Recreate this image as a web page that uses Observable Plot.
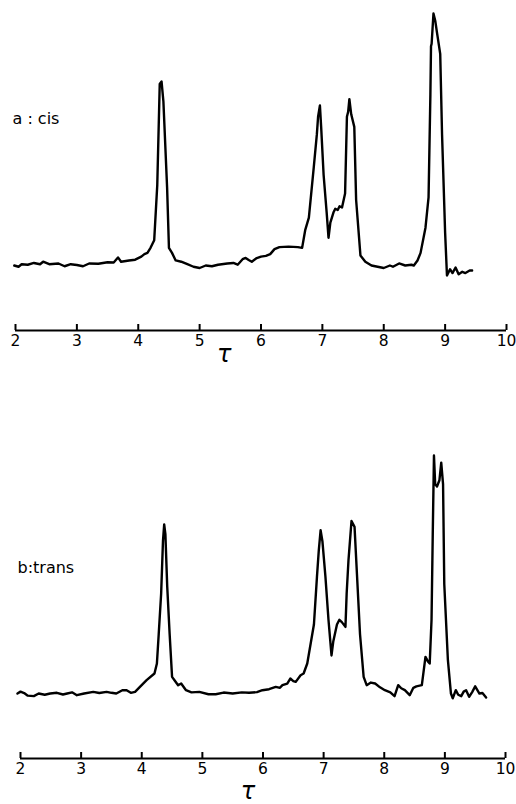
<!DOCTYPE html>
<html>
<head>
<meta charset="utf-8">
<script src="https://cdn.jsdelivr.net/npm/d3@7"></script>
<script src="https://cdn.jsdelivr.net/npm/@observablehq/plot@0.6"></script>
<style>
  html, body { margin: 0; padding: 0; background: white; }
  #chart svg { display: block; }
</style>
</head>
<body>
<div id="chart"></div>
<script>
// ---- data ----
const tickValues = [2, 3, 4, 5, 6, 7, 8, 9, 10];
const axisTitle = "τ";

const cisLabel = "a : cis";
const cisTau = [1.98,2.05,2.1,2.2,2.3,2.4,2.45,2.55,2.7,2.8,2.9,3.0,3.1,3.2,3.35,3.5,3.6,3.67,3.72,3.85,3.95,4.05,4.1,4.15,4.2,4.26,4.31,4.35,4.38,4.41,4.47,4.5,4.55,4.61,4.7,4.8,4.9,5.0,5.1,5.2,5.3,5.45,5.55,5.62,5.7,5.75,5.8,5.85,5.92,6.0,6.08,6.15,6.22,6.3,6.45,6.6,6.67,6.72,6.78,6.86,6.91,6.93,6.96,6.98,7.02,7.07,7.1,7.13,7.18,7.21,7.25,7.28,7.32,7.37,7.4,7.42,7.44,7.47,7.52,7.55,7.62,7.7,7.8,7.9,8.0,8.1,8.15,8.25,8.35,8.45,8.49,8.55,8.6,8.68,8.73,8.76,8.77,8.78,8.81,8.84,8.87,8.92,8.95,9.0,9.03,9.06,9.08,9.12,9.17,9.22,9.28,9.33,9.4,9.44];
const cisIntensity = [0,-0.5,0.5,0.3,1,0.5,1.5,0.5,0.8,-0.3,0.5,0.2,-0.3,0.8,0.7,1.3,1.2,3.2,1.5,2,2.3,3.5,4.5,5,7,10,32,72,73,65,31,7,5,2,1.5,0.5,-0.5,-1,0,-0.3,0.3,0.8,1,0.3,2.5,3,2.2,1.5,2.8,3.5,3.8,4.5,6.5,7.3,7.5,7.3,7,14,19,39,52,59,63.5,55,36,21,11,17,21,22.5,22,23.5,23,28.6,59,61,66,60,55,26,4,1.5,0,-0.5,-1,0,-0.5,0.8,0,0.3,0,2,5,15,27,68,87,88,100,97,92,84,52,13,-4,-2.5,-1.5,-3,-0.8,-3.5,-2.5,-3,-2,-2];

const transLabel = "b:trans";
const transTau = [1.95,2.0,2.06,2.12,2.22,2.3,2.4,2.49,2.6,2.7,2.77,2.85,2.93,3.05,3.2,3.3,3.42,3.5,3.58,3.68,3.75,3.82,3.89,3.97,4.08,4.21,4.25,4.28,4.32,4.35,4.37,4.39,4.42,4.46,4.5,4.54,4.6,4.65,4.73,4.82,4.95,5.1,5.22,5.35,5.5,5.65,5.77,5.9,5.99,6.1,6.21,6.28,6.32,6.4,6.45,6.5,6.54,6.62,6.67,6.73,6.84,6.89,6.92,6.95,6.98,7.03,7.08,7.13,7.16,7.22,7.26,7.3,7.36,7.38,7.41,7.46,7.51,7.55,7.6,7.66,7.71,7.78,7.85,7.93,8.01,8.1,8.17,8.23,8.28,8.34,8.42,8.48,8.53,8.62,8.68,8.72,8.75,8.78,8.8,8.82,8.84,8.87,8.91,8.94,8.97,8.99,9.05,9.1,9.13,9.18,9.22,9.27,9.31,9.35,9.4,9.45,9.5,9.57,9.62,9.68];
const transIntensity = [0,0.8,0.2,-0.9,-1.1,0,-0.5,0,0.3,-0.4,0,0.5,-0.7,0,0.7,0.2,0.7,0.3,0,1.4,1.4,0.3,0.7,2.8,5.6,8.4,12.6,25,42,64,71,67,45,25,7,5.6,3.5,4.2,1.4,0.5,0.7,-0.3,-0.3,0.4,0,0.5,0.3,0.6,1.4,1.8,2.8,2.4,3.5,4.2,6.3,5.2,4.9,7.7,8.4,12.6,29,49,60,68.6,64,49,31,16,22,29,31,30,28,42,56,72.5,70,50,25,7,3.5,4.6,4.2,2.6,1.4,0.5,-1.1,3.5,2.2,1.4,-0.7,2.4,3,3.5,15.4,13.5,12.6,31,67,100,88,87,89.6,97,88,46,14,0,-2,1.4,-0.5,-1.1,0.8,1.4,-1.4,0.6,3,0,0.2,-1.7];

// ---- drawing ----
const font = "DejaVu Sans";

function panel({tau, intensity, label, height, marginTop, marginBottom, marginLeft, marginRight, yMin, labelDy, titleX, titleDy}) {
  const rows = tau.map((t, i) => ({tau: t, intensity: intensity[i]}));
  return Plot.plot({
    width: 516,
    height,
    marginTop, marginBottom, marginLeft, marginRight,
    style: {background: "white", color: "black", fontFamily: font, fontSize: "16px"},
    x: {domain: [2, 10], axis: null},
    y: {domain: [yMin, 100], axis: null},
    marks: [
      Plot.ruleY([yMin], {stroke: "black", strokeWidth: 2}),
      Plot.axisX({ticks: tickValues, tickSize: -6, tickPadding: 10, strokeWidth: 2, fontSize: 15.5, label: null, tickFormat: d => String(d)}),
      Plot.line(rows, {x: "tau", y: "intensity", stroke: "black", strokeWidth: 2.4, strokeLinejoin: "round", curve: "linear"}),
      Plot.text([label], {frameAnchor: "top-left", text: d => d, textAnchor: "start", fontSize: 16, dx: -3, dy: labelDy}),
      Plot.text([axisTitle], {x: titleX, frameAnchor: "bottom", text: d => d, fontSize: 24, fontStyle: "italic", dy: titleDy})
    ]
  });
}

const chart = document.getElementById("chart");
chart.appendChild(panel({
  tau: cisTau, intensity: cisIntensity, label: cisLabel,
  height: 400, marginTop: 13, marginBottom: 70, marginLeft: 15, marginRight: 10,
  yMin: -25.8, labelDy: 99, titleX: 5.4, titleDy: 31
}));
chart.appendChild(panel({
  tau: transTau, intensity: transIntensity, label: transLabel,
  height: 404, marginTop: 55, marginBottom: 46, marginLeft: 20, marginRight: 11,
  yMin: -27.3, labelDy: 106, titleX: 5.75, titleDy: 40
}));
</script>
</body>
</html>
